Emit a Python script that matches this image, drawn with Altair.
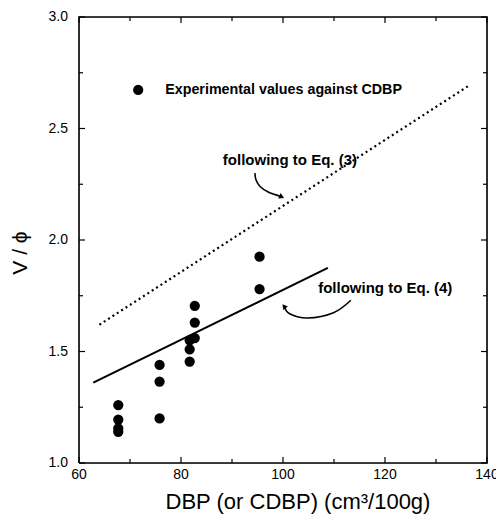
import altair as alt
import pandas as pd

# ---- data ----
dbp = [67.7, 67.7, 67.7, 67.7, 75.8, 75.8, 75.8, 81.7, 81.7, 81.7, 82.7, 82.7, 82.7, 95.4, 95.4]
v_phi = [1.26, 1.195, 1.155, 1.14, 1.44, 1.365, 1.20, 1.55, 1.51, 1.455, 1.705, 1.63, 1.56, 1.925, 1.78]

eq4_x = [62.8, 108.8]
eq4_y = [1.36, 1.875]
eq3_x = [64.0, 136.3]
eq3_y = [1.62, 2.69]

legend_x = [71.6]
legend_y = [2.673]
legend_text = ["Experimental values against CDBP"]
legend_text_x = [76.9]

label_text = ["following to Eq. (3)", "following to Eq. (4)"]
label_x = [88.2, 106.9]
label_y = [2.36, 1.785]

arrow3_x = [94.5, 94.7, 95.5, 97.1, 99.6]
arrow3_y = [2.30, 2.27, 2.24, 2.215, 2.195]
arrow4_x = [113.3, 109.9, 104.8, 101.4, 100.3]
arrow4_y = [1.73, 1.674, 1.65, 1.668, 1.70]
head_x = [99.6, 100.3]
head_y = [2.195, 1.70]
head_angle = [115, 322]

x_major = [60, 80, 100, 120, 140]
x_labels = ["60", "80", "100", "120", "140"]
x_minor = [70, 90, 110, 130]
y_major = [1.0, 1.5, 2.0, 2.5, 3.0]
y_labels = ["1.0", "1.5", "2.0", "2.5", "3.0"]
y_minor = [1.25, 1.75, 2.25, 2.75]

x_title = ["DBP (or CDBP) (cm³/100g)"]
y_title = ["V / ϕ"]

# plot frame follows the axis ranges
frame_x = [60, 140, 140, 60, 60]
frame_y = [1.0, 1.0, 3.0, 3.0, 1.0]

W, H = 408, 446
FONT = "Liberation Sans"

xs = alt.Scale(domain=[60, 140], nice=False, zero=False)
ys = alt.Scale(domain=[1.0, 3.0], nice=False, zero=False)


def xq(field="x"):
    return alt.X(f"{field}:Q", scale=xs, axis=None)


def yq(field="y"):
    return alt.Y(f"{field}:Q", scale=ys, axis=None)


points = alt.Chart(pd.DataFrame({"x": dbp, "y": v_phi})).mark_circle(
    size=105, color="black", opacity=1).encode(x=xq(), y=yq())

frame = alt.Chart(pd.DataFrame({"x": frame_x, "y": frame_y, "o": list(range(len(frame_x)))})).mark_line(
    color="black", strokeWidth=1.6, clip=False).encode(x=xq(), y=yq(), order="o:Q")

solid = alt.Chart(pd.DataFrame({"x": eq4_x, "y": eq4_y})).mark_line(
    color="black", strokeWidth=2).encode(x=xq(), y=yq())
dotted = alt.Chart(pd.DataFrame({"x": eq3_x, "y": eq3_y})).mark_line(
    color="black", strokeWidth=2.2, strokeDash=[2, 3.2]).encode(x=xq(), y=yq())

leg_dot = alt.Chart(pd.DataFrame({"x": legend_x, "y": legend_y})).mark_circle(
    size=105, color="black", opacity=1).encode(x=xq(), y=yq())
leg_txt = alt.Chart(pd.DataFrame({"x": legend_text_x, "y": legend_y, "t": legend_text})).mark_text(
    align="left", baseline="middle", font=FONT, fontSize=14.3, fontWeight="bold", color="black"
).encode(x=xq(), y=yq(), text="t:N")
lab_txt = alt.Chart(pd.DataFrame({"x": label_x, "y": label_y, "t": label_text})).mark_text(
    align="left", baseline="middle", font=FONT, fontSize=15, fontWeight="bold", color="black"
).encode(x=xq(), y=yq(), text="t:N")

arr3 = alt.Chart(pd.DataFrame({"x": arrow3_x, "y": arrow3_y, "o": list(range(len(arrow3_x)))})).mark_line(
    color="black", strokeWidth=1.6, interpolate="cardinal").encode(x=xq(), y=yq(), order="o:Q")
arr4 = alt.Chart(pd.DataFrame({"x": arrow4_x, "y": arrow4_y, "o": list(range(len(arrow4_x)))})).mark_line(
    color="black", strokeWidth=1.6, interpolate="cardinal").encode(x=xq(), y=yq(), order="o:Q")
heads = alt.Chart(pd.DataFrame({"x": head_x, "y": head_y, "a": head_angle})).mark_point(
    shape="triangle", filled=True, size=35, color="black", opacity=1).encode(
    x=xq(), y=yq(), angle=alt.Angle("a:Q", scale=None))

# tick labels and axis titles as text marks
xlab = alt.Chart(pd.DataFrame({"x": x_major, "t": x_labels})).mark_text(
    align="center", baseline="top", font=FONT, fontSize=14, color="black"
).encode(x=xq(), y=alt.value(H + 5), text="t:N")
ylab = alt.Chart(pd.DataFrame({"y": y_major, "t": y_labels})).mark_text(
    align="right", baseline="middle", font=FONT, fontSize=14, color="black"
).encode(y=yq(), x=alt.value(-11), text="t:N")
xtit = alt.Chart(pd.DataFrame({"t": x_title})).mark_text(
    align="center", baseline="middle", font=FONT, fontSize=22, color="black"
).encode(x=alt.value(219), y=alt.value(H + 39), text="t:N")
ytit = alt.Chart(pd.DataFrame({"t": y_title})).mark_text(
    align="center", baseline="middle", font=FONT, fontSize=21, color="black", angle=270
).encode(x=alt.value(-58), y=alt.value(236), text="t:N")


def tick_layers(vals, axis, length):
    df = pd.DataFrame({"x": vals, "y": vals})
    c = alt.Chart(df).mark_rule(color="black", strokeWidth=1.2)
    if axis == "x":
        return [
            c.encode(x=xq("x"), y=alt.value(H), y2=alt.value(H - length)),
            c.encode(x=xq("x"), y=alt.value(0), y2=alt.value(length)),
        ]
    return [
        c.encode(y=yq("y"), x=alt.value(0), x2=alt.value(length)),
        c.encode(y=yq("y"), x=alt.value(W), x2=alt.value(W - length)),
    ]


ticks = (tick_layers(x_major, "x", 6) + tick_layers(x_minor, "x", 4)
         + tick_layers(y_major, "y", 6) + tick_layers(y_minor, "y", 4))

chart = alt.layer(points, frame, solid, dotted, leg_dot, leg_txt, lab_txt, arr3, arr4, heads,
                  xlab, ylab, xtit, ytit, *ticks).properties(
    width=W, height=H,
    autosize=alt.AutoSizeParams(type="none"),
    padding={"left": 71, "top": 9, "right": 9, "bottom": 52},
).configure(background="white")

chart.save("out.html", embed_options={"renderer": "svg", "actions": False})
